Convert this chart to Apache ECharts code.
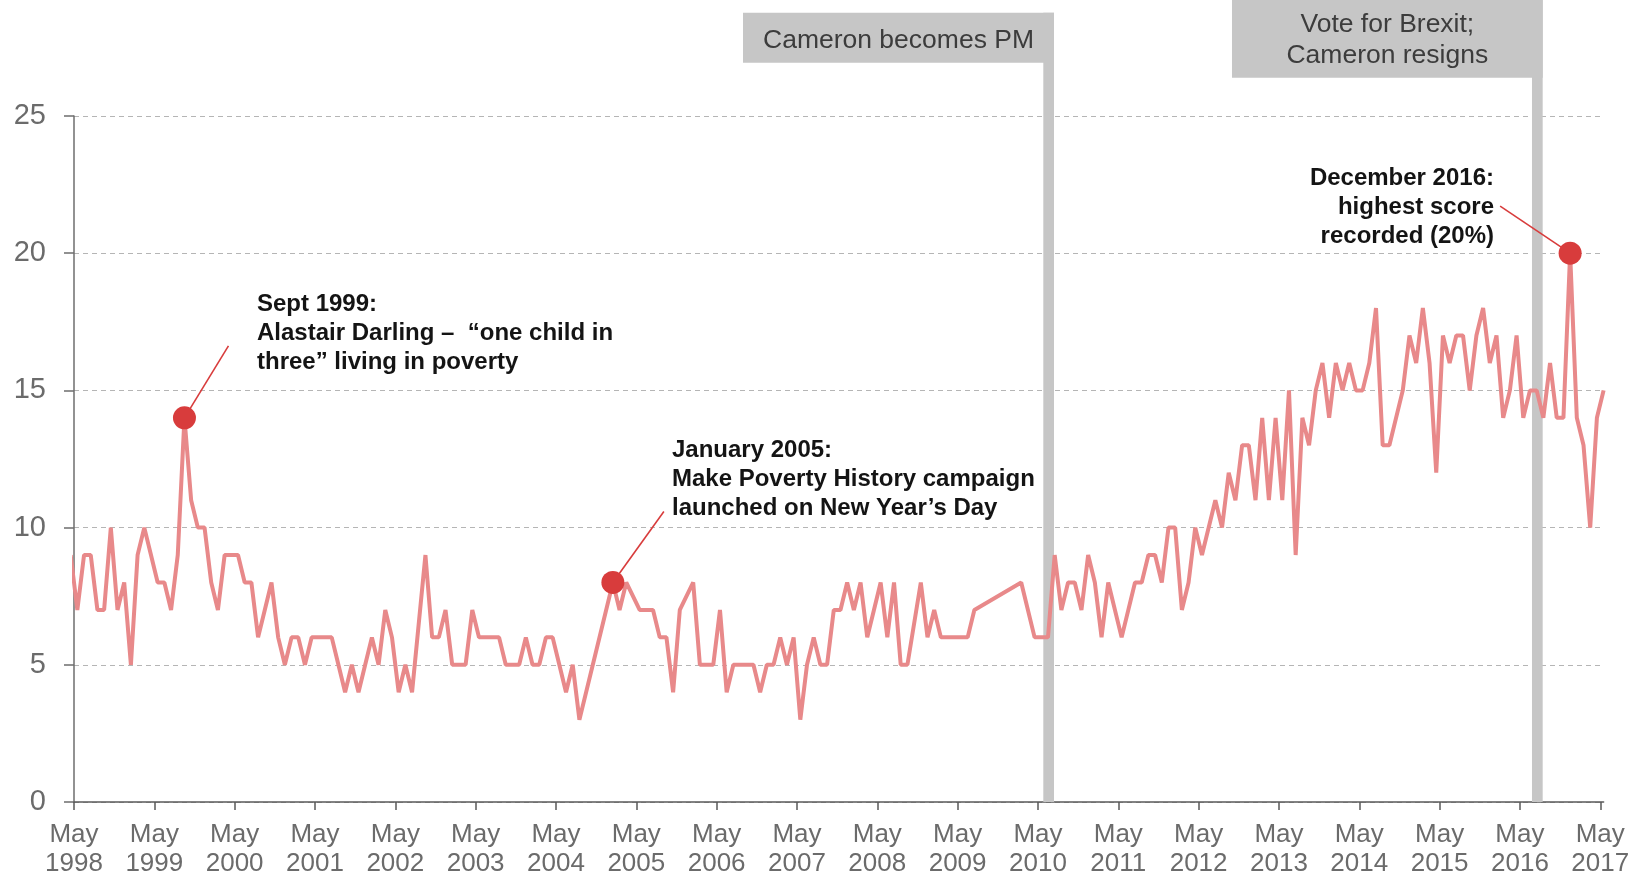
<!DOCTYPE html>
<html>
<head>
<meta charset="utf-8">
<script src="https://cdn.jsdelivr.net/npm/echarts@6/dist/echarts.min.js"></script>
<style>
  html, body { margin: 0; padding: 0; background: #fff; }
  #main { width: 1644px; height: 878px; }
</style>
</head>
<body>
<div id="main"></div>
<script>
// month index counted from May 1998 (0 = May 1998); some months have no reading
var months = [-1, 0, 1, 2, 3, 4, 5, 6, 7, 8, 9, 10, 11, 12, 13, 14, 15, 16, 17, 18, 19,
  20, 21, 22, 23, 24, 25, 26, 27, 28, 29, 30, 31, 32, 33, 34, 35, 36, 37, 38, 39,
  40, 41, 42, 43, 44, 45, 46, 47, 48, 49, 50, 52, 53, 54, 55, 56, 57, 58, 59,
  60, 61, 62, 63, 64, 65, 66, 67, 68, 69, 70, 71, 72, 73, 74, 75, 80, 81, 82,
  84, 85, 86, 87, 88, 89, 90, 92, 93, 94, 95, 96, 97, 98, 99,
  100, 101, 102, 103, 104, 105, 106, 107, 108, 109, 110, 111, 112, 113, 114, 115, 116, 117, 118, 119,
  120, 121, 122, 123, 124, 126, 127, 128, 129, 130, 131, 132, 133, 134, 141, 143, 144, 145, 146, 147,
  148, 149, 150, 151, 152, 153, 154, 156, 158, 159, 160, 161, 162, 163, 164, 165, 166, 167, 168,
  170, 171, 172, 173, 174, 175, 176, 177, 178, 179, 180, 181, 182, 183, 184, 185, 186, 187, 188, 189,
  190, 191, 192, 193, 194, 195, 196, 198, 199, 200, 201, 202, 203, 204, 205, 206, 207, 208, 209,
  210, 211, 212, 213, 214, 215, 216, 217, 218, 219, 220, 221, 222, 223, 224, 225, 226, 227, 228];
var values = [9, 7, 9, 9, 7, 7, 10, 7, 8, 5, 9, 10, 9, 8, 8, 7, 9, 14, 11, 10, 10,
  8, 7, 9, 9, 9, 8, 8, 6, 7, 8, 6, 5, 6, 6, 5, 6, 6, 6, 6, 5,
  4, 5, 4, 5, 6, 5, 7, 6, 4, 5, 4, 9, 6, 6, 7, 5, 5, 5, 7,
  6, 6, 6, 6, 5, 5, 5, 6, 5, 5, 6, 6, 5, 4, 5, 3, 8, 7, 8,
  7, 7, 7, 6, 6, 4, 7, 8, 5, 5, 5, 7, 4, 5, 5,
  5, 5, 4, 5, 5, 6, 5, 6, 3, 5, 6, 5, 5, 7, 7, 8, 7, 8, 6, 7,
  8, 6, 8, 5, 5, 8, 6, 7, 6, 6, 6, 6, 6, 7, 8, 6, 6, 6, 9, 7,
  8, 8, 7, 9, 8, 6, 8, 6, 8, 8, 9, 9, 8, 10, 10, 7, 8, 10, 9,
  11, 10, 12, 11, 13, 13, 11, 14, 11, 14, 11, 15, 9, 14, 13, 15, 16, 14, 16, 15,
  16, 15, 15, 16, 18, 13, 13, 15, 17, 16, 18, 16, 12, 17, 16, 17, 17, 15, 17,
  18, 16, 17, 14, 15, 17, 14, 15, 15, 14, 16, 14, 14, 20, 14, 13, 10, 14, 15];

var startYear = 1998;
var yTicks = [0, 5, 10, 15, 20, 25];

// highlighted readings: Sept 1999, Jan 2005, Dec 2016
var highlightMonths = [16, 80, 223];
var highlightValues = [14, 8, 20];
var highlightNotes = [
  'Sept 1999:\nAlastair Darling –  \u201cone child in\nthree\u201d living in poverty',
  'January 2005:\nMake Poverty History campaign\nlaunched on New Year\u2019s Day',
  'December 2016:\nhighest score\nrecorded (20%)'
];

// political events drawn as grey bars
var eventMonths = [145.6, 218.6];
var eventLabels = ['Cameron becomes PM', 'Vote for Brexit;\nCameron resigns'];

var chart = echarts.init(document.getElementById('main'));
var font = '"Liberation Sans", Arial, sans-serif';

var option = {
  animation: false,
  grid: { left: 74, right: 40.4, top: 116, bottom: 75 },
  xAxis: {
    type: 'value',
    min: 0,
    max: 228.5,
    interval: 12,
    axisLine: { lineStyle: { color: '#5a5a5a', width: 1.5 } },
    axisTick: { length: 8, lineStyle: { color: '#5a5a5a', width: 1.5 } },
    splitLine: { show: false },
    axisLabel: {
      margin: 18,
      fontSize: 26,
      lineHeight: 29,
      color: '#6b6b6b',
      fontFamily: font,
      showMaxLabel: false,
      formatter: function (v) {
        if (v % 12 !== 0) return '';
        return 'May\n' + (startYear + v / 12);
      }
    }
  },
  yAxis: {
    type: 'value',
    min: yTicks[0],
    max: yTicks[yTicks.length - 1],
    interval: 5,
    axisLine: { show: true, lineStyle: { color: '#6e6e6e', width: 1.5 } },
    axisTick: { show: true, length: 10, lineStyle: { color: '#6e6e6e', width: 1.5 } },
    splitLine: { lineStyle: { color: '#b5b5b5', type: [5, 4], width: 1 } },
    axisLabel: { margin: 28, fontSize: 29, color: '#6b6b6b', fontFamily: font }
  },
  series: [
    {
      type: 'line',
      data: months.map(function (m, i) { return [m + 0.5, values[i]]; }),
      showSymbol: false,
      lineStyle: { color: '#e8898a', width: 4 },
      z: 3
    },
    {
      type: 'scatter',
      data: highlightMonths.map(function (m, i) { return [m + 0.5, highlightValues[i]]; }),
      symbolSize: 23,
      itemStyle: { color: '#d83c3c', opacity: 1 },
      z: 5
    }
  ]
};
chart.setOption(option);

// annotation layout
var axisY = chart.convertToPixel({ yAxisIndex: 0 }, 0);
var eventBoxes = [
  { top: 12.7, height: 50, width: 311 },
  { top: 0, height: 77.7, width: 310.7 }
];
var noteLayout = [
  { x: 257, y: 290, align: 'left', dx: 44, dy: -72 },
  { x: 672, y: 436, align: 'left', dx: 51, dy: -71 },
  { x: 1494, y: 163.5, align: 'right', dx: -70, dy: -47 }
];
var barW = 10.7;
var elements = [];

eventMonths.forEach(function (m, i) {
  var cx = chart.convertToPixel({ xAxisIndex: 0 }, m);
  var b = eventBoxes[i];
  var right = cx + barW / 2;
  elements.push({
    type: 'rect', z: 1,
    shape: { x: cx - barW / 2, y: b.top, width: barW, height: axisY - b.top },
    style: { fill: '#c6c6c6' }
  });
  elements.push({
    type: 'rect', z: 1,
    shape: { x: right - b.width, y: b.top, width: b.width, height: b.height },
    style: { fill: '#c6c6c6' }
  });
  elements.push({
    type: 'text', z: 2,
    style: {
      text: eventLabels[i], x: right - b.width / 2, y: b.top + b.height / 2 + (i === 0 ? 3 : 1.5),
      align: 'center', verticalAlign: 'middle',
      fontSize: 26.5, lineHeight: 31, fontFamily: font, fill: '#3c3c3c'
    }
  });
});

highlightMonths.forEach(function (m, i) {
  var p = chart.convertToPixel({ xAxisIndex: 0, yAxisIndex: 0 }, [m + 0.5, highlightValues[i]]);
  var n = noteLayout[i];
  elements.push({
    type: 'line', z: 4,
    shape: { x1: p[0], y1: p[1], x2: p[0] + n.dx, y2: p[1] + n.dy },
    style: { stroke: '#d83c3c', lineWidth: 1.6 }
  });
  elements.push({
    type: 'text', z: 10,
    style: {
      text: highlightNotes[i], x: n.x, y: n.y,
      align: n.align, verticalAlign: 'top',
      fontSize: 24, fontWeight: 'bold', lineHeight: 29, fontFamily: font, fill: '#141414'
    }
  });
});

chart.setOption({ graphic: { elements: elements } });
</script>
</body>
</html>
